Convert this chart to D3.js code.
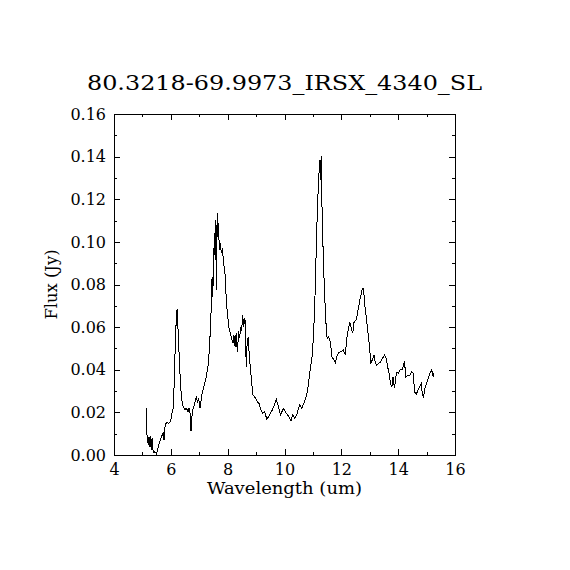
<!DOCTYPE html>
<html>
<head>
<meta charset="utf-8">
<script src="https://cdn.jsdelivr.net/npm/d3@7"></script>
<style>
  html, body { margin: 0; padding: 0; background: #fff; }
  text { font-family: "DejaVu Serif", serif; fill: #000; }
</style>
</head>
<body>
<div id="chart"></div>
<script>
/*-------------------- Data -------------------*/

var titleText = "80.3218-69.9973_IRSX_4340_SL";
var xLabelText = "Wavelength (um)";
var yLabelText = "Flux (Jy)";

var xMajorTicks = [4, 6, 8, 10, 12, 14, 16];
var xMinorTicks = [5, 7, 9, 11, 13, 15];
var xTickLabels = ["4", "6", "8", "10", "12", "14", "16"];
var yMajorTicks = [0, 0.02, 0.04, 0.06, 0.08, 0.10, 0.12, 0.14, 0.16];
var yMinorTicks = [0.01, 0.03, 0.05, 0.07, 0.09, 0.11, 0.13, 0.15];
var yTickLabels = ["0.00", "0.02", "0.04", "0.06", "0.08", "0.10", "0.12", "0.14", "0.16"];

var wavelength = [
  5.15, 5.16, 5.17, 5.20, 5.24, 5.27, 5.31, 5.34, 5.38, 5.44, 5.50, 5.56, 5.61, 5.67, 5.73, 5.76,
  5.80, 5.85, 5.92, 5.99, 6.04, 6.08, 6.12, 6.15, 6.19, 6.22, 6.26, 6.32, 6.37, 6.43, 6.49, 6.55,
  6.61, 6.64, 6.69, 6.71, 6.76, 6.82, 6.87, 6.90, 6.94, 6.98, 7.03, 7.09, 7.16, 7.25, 7.32, 7.37,
  7.40, 7.44, 7.45, 7.47, 7.50, 7.53, 7.56, 7.58, 7.60, 7.63, 7.65, 7.67, 7.71, 7.74, 7.78, 7.81,
  7.86, 7.89, 7.92, 7.95, 7.99, 8.04, 8.09, 8.14, 8.19, 8.22, 8.26, 8.30, 8.34, 8.39, 8.42, 8.46,
  8.49, 8.53, 8.56, 8.60, 8.63, 8.65, 8.69, 8.73, 8.76, 8.80, 8.84, 8.89, 8.98, 9.04, 9.10, 9.17,
  9.24, 9.30, 9.38, 9.47, 9.57, 9.65, 9.71, 9.77, 9.86, 9.96, 10.06, 10.15, 10.23, 10.29, 10.36, 10.43,
  10.53, 10.61, 10.70, 10.78, 10.84, 10.90, 10.96, 11.02, 11.07, 11.11, 11.16, 11.20, 11.24, 11.26, 11.29, 11.32,
  11.37, 11.42, 11.46, 11.50, 11.55, 11.61, 11.67, 11.74, 11.79, 11.84, 11.91, 11.99, 12.07, 12.14, 12.20, 12.26,
  12.30, 12.35, 12.40, 12.45, 12.52, 12.57, 12.63, 12.69, 12.74, 12.78, 12.83, 12.89, 12.94, 12.99, 13.04, 13.09,
  13.15, 13.19, 13.24, 13.31, 13.39, 13.45, 13.52, 13.58, 13.64, 13.68, 13.73, 13.78, 13.82, 13.87, 13.92, 13.96,
  14.01, 14.06, 14.13, 14.18, 14.22, 14.27, 14.34, 14.41, 14.48, 14.54, 14.57, 14.64, 14.70, 14.76, 14.81, 14.85,
  14.89, 14.94, 14.98, 15.04, 15.11, 15.18, 15.23, 15.24
];

var flux = [
  0.0222, 0.0102, 0.0055, 0.0086, 0.0039, 0.0089, 0.0023, 0.0080, 0.0010, 0.0015, 0.0005, 0.0040, 0.0062, 0.0086, 0.0102, 0.0070,
  0.0141, 0.0152, 0.0149, 0.0156, 0.0196, 0.0219, 0.0336, 0.0493, 0.0633, 0.0684, 0.0571, 0.0385, 0.0274, 0.0227, 0.0214, 0.0219,
  0.0203, 0.0219, 0.0188, 0.0113, 0.0211, 0.0230, 0.0258, 0.0274, 0.0243, 0.0266, 0.0219, 0.0282, 0.0320, 0.0367, 0.0430, 0.0524,
  0.0633, 0.0727, 0.0837, 0.0743, 0.0845, 0.1040, 0.0915, 0.1103, 0.0774, 0.1134, 0.1025, 0.1087, 0.0962, 0.0993, 0.0946, 0.0970,
  0.0900, 0.0868, 0.0837, 0.0727, 0.0665, 0.0602, 0.0571, 0.0547, 0.0524, 0.0563, 0.0508, 0.0571, 0.0485, 0.0580, 0.0547, 0.0602,
  0.0580, 0.0657, 0.0602, 0.0641, 0.0618, 0.0414, 0.0540, 0.0555, 0.0461, 0.0407, 0.0344, 0.0282, 0.0266, 0.0250, 0.0243, 0.0211,
  0.0196, 0.0203, 0.0167, 0.0188, 0.0211, 0.0235, 0.0261, 0.0235, 0.0188, 0.0219, 0.0196, 0.0180, 0.0161, 0.0188, 0.0172, 0.0188,
  0.0235, 0.0219, 0.0250, 0.0282, 0.0330, 0.0399, 0.0446, 0.0555, 0.0727, 0.0930, 0.1165, 0.1290, 0.1384, 0.1290, 0.1403, 0.1165,
  0.0900, 0.0727, 0.0618, 0.0547, 0.0555, 0.0532, 0.0461, 0.0446, 0.0433, 0.0461, 0.0480, 0.0485, 0.0493, 0.0469, 0.0555, 0.0602,
  0.0621, 0.0594, 0.0571, 0.0626, 0.0633, 0.0665, 0.0712, 0.0751, 0.0779, 0.0782, 0.0696, 0.0633, 0.0571, 0.0508, 0.0433, 0.0446,
  0.0469, 0.0438, 0.0422, 0.0430, 0.0438, 0.0454, 0.0469, 0.0454, 0.0407, 0.0383, 0.0336, 0.0320, 0.0367, 0.0313, 0.0367, 0.0390,
  0.0383, 0.0399, 0.0399, 0.0414, 0.0442, 0.0367, 0.0375, 0.0375, 0.0390, 0.0383, 0.0297, 0.0286, 0.0305, 0.0320, 0.0336, 0.0290,
  0.0266, 0.0313, 0.0328, 0.0352, 0.0383, 0.0399, 0.0367, 0.0383
];

/*-------------------- Chart -------------------*/

var width = 570, height = 570;
var frame = {left: 114, right: 455, top: 114, bottom: 455};

var svg = d3.select("#chart").append("svg")
    .attr("width", width)
    .attr("height", height)
    .style("display", "block");

svg.append("rect").attr("width", width).attr("height", height).attr("fill", "#fff");

var xScale = d3.scaleLinear().domain([4, 16]).range([frame.left, frame.right]);
var yScale = d3.scaleLinear().domain([0, 0.16]).range([frame.bottom, frame.top]);

function styleAxis(g) {
    g.select(".domain").remove();
    g.selectAll("line").attr("stroke", "#000").attr("shape-rendering", "crispEdges");
    g.selectAll("text").style("font-family", "DejaVu Serif, serif").style("font-size", "16px").attr("fill", "#000");
}

// major ticks with labels (bottom / left), mirrored on top / right without labels
svg.append("g")
    .attr("transform", "translate(0," + frame.bottom + ")")
    .call(d3.axisBottom(xScale).tickValues(xMajorTicks).tickSize(-6).tickPadding(9)
        .tickFormat((d, i) => xTickLabels[i]))
    .call(styleAxis);
svg.append("g")
    .attr("transform", "translate(0," + frame.top + ")")
    .call(d3.axisTop(xScale).tickValues(xMajorTicks).tickSize(-6).tickFormat(""))
    .call(styleAxis);
svg.append("g")
    .attr("transform", "translate(" + frame.left + ",0)")
    .call(d3.axisLeft(yScale).tickValues(yMajorTicks).tickSize(-6).tickPadding(8)
        .tickFormat((d, i) => yTickLabels[i]))
    .call(styleAxis);
svg.append("g")
    .attr("transform", "translate(" + frame.right + ",0)")
    .call(d3.axisRight(yScale).tickValues(yMajorTicks).tickSize(-6).tickFormat(""))
    .call(styleAxis);

// minor ticks
svg.append("g")
    .attr("transform", "translate(0," + frame.bottom + ")")
    .call(d3.axisBottom(xScale).tickValues(xMinorTicks).tickSize(-3).tickFormat(""))
    .call(styleAxis);
svg.append("g")
    .attr("transform", "translate(0," + frame.top + ")")
    .call(d3.axisTop(xScale).tickValues(xMinorTicks).tickSize(-3).tickFormat(""))
    .call(styleAxis);
svg.append("g")
    .attr("transform", "translate(" + frame.left + ",0)")
    .call(d3.axisLeft(yScale).tickValues(yMinorTicks).tickSize(-3).tickFormat(""))
    .call(styleAxis);
svg.append("g")
    .attr("transform", "translate(" + frame.right + ",0)")
    .call(d3.axisRight(yScale).tickValues(yMinorTicks).tickSize(-3).tickFormat(""))
    .call(styleAxis);

// plot frame
svg.append("rect")
    .attr("x", frame.left)
    .attr("y", frame.top)
    .attr("width", frame.right - frame.left)
    .attr("height", frame.bottom - frame.top)
    .attr("fill", "none")
    .attr("stroke", "#000")
    .attr("stroke-width", 1)
    .attr("shape-rendering", "crispEdges");

// spectrum (aliased 1px line like the original plot)
var points = wavelength.map((w, i) => [w, flux[i]]);
var line = d3.line().x(d => xScale(d[0])).y(d => yScale(d[1]));

svg.append("path")
    .datum(points)
    .attr("d", line)
    .attr("fill", "none")
    .attr("stroke", "#000")
    .attr("stroke-width", 1)
    .attr("shape-rendering", "crispEdges");

// title and axis labels
svg.append("text")
    .attr("x", (frame.left + frame.right) / 2)
    .attr("y", 90)
    .attr("text-anchor", "middle")
    .attr("textLength", 395)
    .attr("lengthAdjust", "spacingAndGlyphs")
    .style("font-size", "21px")
    .text(titleText);

svg.append("text")
    .attr("x", (frame.left + frame.right) / 2)
    .attr("y", 494)
    .attr("text-anchor", "middle")
    .attr("textLength", 155)
    .attr("lengthAdjust", "spacingAndGlyphs")
    .style("font-size", "16px")
    .text(xLabelText);

svg.append("text")
    .attr("transform", "translate(57," + ((frame.top + frame.bottom) / 2) + ") rotate(-90)")
    .attr("text-anchor", "middle")
    .attr("textLength", 70)
    .attr("lengthAdjust", "spacingAndGlyphs")
    .style("font-size", "16px")
    .text(yLabelText);
</script>
</body>
</html>
